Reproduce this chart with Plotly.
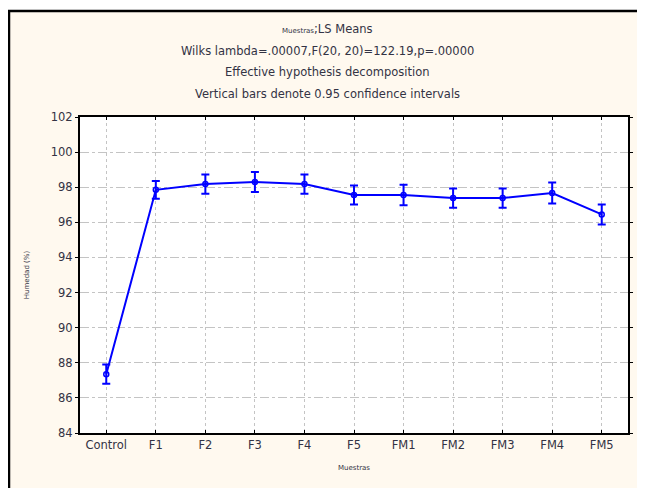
import plotly.graph_objects as go

categories = ["Control", "F1", "F2", "F3", "F4", "F5", "FM1", "FM2", "FM3", "FM4", "FM5"]
means = [87.35, 97.85, 98.18, 98.3, 98.18, 97.56, 97.56, 97.38, 97.38, 97.67, 96.45]
ci_half = [0.55, 0.5, 0.55, 0.57, 0.55, 0.54, 0.58, 0.55, 0.55, 0.6, 0.57]
y_ticks = [84, 86, 88, 90, 92, 94, 96, 98, 100, 102]
title_lines = [
    "<span style='font-size:7px'>Muestras</span>;LS Means",
    "Wilks lambda=.00007,F(20, 20)=122.19,p=.00000",
    "Effective hypothesis decomposition",
    "Vertical bars denote 0.95 confidence intervals",
]

# page has an 8px body margin; figure coordinates are page minus 8
OFF = 8
W, H = 645 - OFF, 488 - OFF
L, R, T, B = 80 - OFF, 628 - OFF, 117 - OFF, 433 - OFF

def px(x):
    return (x - OFF - L) / (R - L)

def py(y):
    return (B - (y - OFF)) / (B - T)

fig = go.Figure()
fig.add_trace(go.Scatter(
    x=list(range(len(categories))), y=means,
    mode="lines+markers",
    line=dict(color="#0000ff", width=2),
    marker=dict(symbol="circle-open", size=5, color="#0000ff", line=dict(width=1.5)),
    error_y=dict(type="data", array=ci_half, color="#0000ff", thickness=2, width=4),
    showlegend=False,
))

fig.update_layout(
    width=W, height=H,
    margin=dict(l=L, r=W - R, t=T, b=H - B),
    paper_bgcolor="#fff9ef",
    plot_bgcolor="white",
    font=dict(family="DejaVu Sans, Arial, sans-serif", size=11, color="#333344"),
    xaxis=dict(
        range=[-0.53, 10.53], tickmode="array", tickvals=list(range(len(categories))),
        ticktext=categories, showline=True, linecolor="black", linewidth=2, mirror="ticks",
        ticks="inside", ticklen=3, tickcolor="black",
        showgrid=True, gridcolor="#c4c4c4", griddash="dot", gridwidth=1,
        zeroline=False, tickfont=dict(size=11.5),
        title=dict(text="Muestras", font=dict(size=7), standoff=14),
    ),
    yaxis=dict(
        range=[84, 102], tickvals=y_ticks, showline=True, linecolor="black", linewidth=2,
        mirror="ticks", ticks="outside", ticklen=3, tickcolor="black",
        showgrid=True, gridcolor="#c4c4c4", griddash="dashdot", gridwidth=1,
        zeroline=False, tickfont=dict(size=11.5),
        title=dict(text="Humedad (%)", font=dict(size=7), standoff=20),
    ),
)

shapes = [
    dict(type="rect", xref="paper", yref="paper", x0=px(0), x1=px(700), y0=py(0), y1=py(11),
         fillcolor="white", line=dict(width=0), layer="below"),
    dict(type="line", xref="paper", yref="paper", x0=px(8), x1=px(700), y0=py(11), y1=py(11),
         line=dict(color="black", width=2.5)),
    dict(type="line", xref="paper", yref="paper", x0=px(9), x1=px(9), y0=py(11), y1=py(H + 40),
         line=dict(color="black", width=2.5)),
]
fig.update_layout(shapes=shapes)

for i, t in enumerate(title_lines):
    fig.add_annotation(text=t, xref="paper", yref="paper", x=px(327), y=py(29 + 21.7 * i),
                       showarrow=False, xanchor="center", yanchor="middle",
                       font=dict(size=11.5, color="#333344"))

fig.write_html("out.html", config={"displayModeBar": False})
